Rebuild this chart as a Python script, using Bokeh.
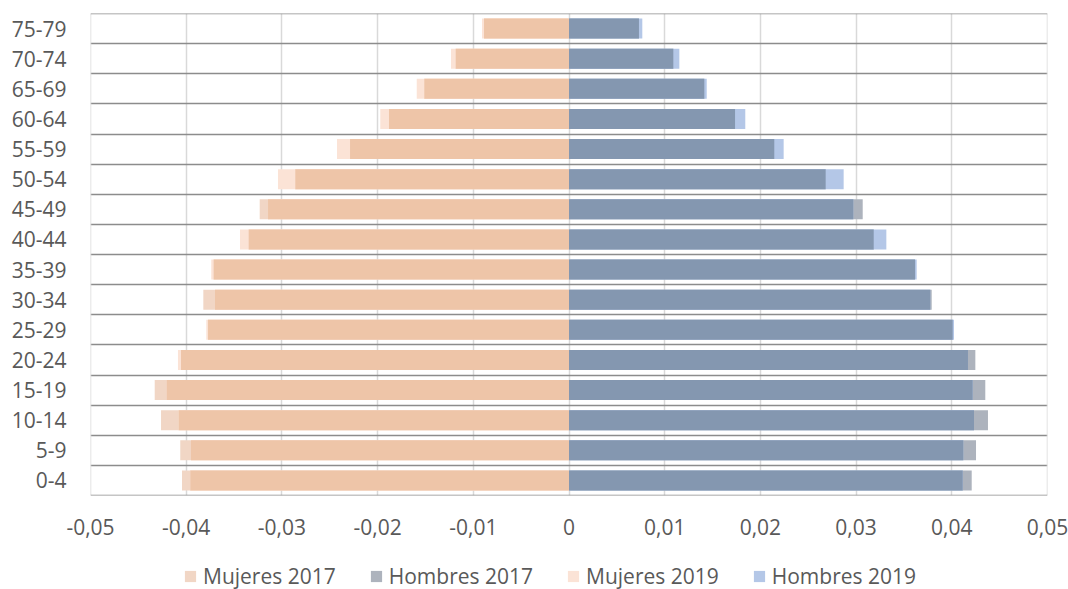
from bokeh.plotting import figure
from bokeh.layouts import column
from bokeh.models import (Range1d, FixedTicker, CustomJSTickFormatter, Legend, LegendItem,
                          ColumnDataSource, Span)
from bokeh.embed import file_html
from bokeh.resources import INLINE
import numpy as np

# ---- data (bottom -> top) ----
grupos = ["0-4", "5-9", "10-14", "15-19", "20-24", "25-29", "30-34", "35-39",
          "40-44", "45-49", "50-54", "55-59", "60-64", "65-69", "70-74", "75-79"]
mujeres_2017 = [-0.04044, -0.04062, -0.04263, -0.04329, -0.04054, -0.03772, -0.03821, -0.03713,
                -0.03347, -0.03232, -0.02860, -0.02288, -0.01881, -0.01512, -0.01184, -0.00888]
mujeres_2019 = [-0.03957, -0.03950, -0.04078, -0.04204, -0.04086, -0.03790, -0.03699, -0.03738,
                -0.03438, -0.03145, -0.03041, -0.02424, -0.01972, -0.01591, -0.01233, -0.00909]
hombres_2017 = [0.04208, 0.04253, 0.04378, 0.04350, 0.04246, 0.04009, 0.03790, 0.03616,
                0.03184, 0.03069, 0.02682, 0.02145, 0.01735, 0.01414, 0.01090, 0.00731]
hombres_2019 = [0.04114, 0.04120, 0.04232, 0.04218, 0.04169, 0.04023, 0.03775, 0.03633,
                0.03316, 0.02971, 0.02870, 0.02243, 0.01842, 0.01439, 0.01153, 0.00766]
x_ticks = [-0.05, -0.04, -0.03, -0.02, -0.01, 0.0, 0.01, 0.02, 0.03, 0.04, 0.05]
series_labels = ["Mujeres 2017", "Hombres 2017", "Mujeres 2019", "Hombres 2019"]

# ---- styles ----
FONT = "Open Sans"
TXT = "#595959"
C_M17 = "#F1D6C5"
C_M19 = "#FBE3D6"
C_MB = "#EEC5A8"
C_H17 = "#ADB3BD"
C_H19 = "#B4C7E7"
C_HB = "#8497B0"
C_HGRID = "#8C8C8C"
C_VGRID = "#D9D9D9"
BAR_H = 0.66

n = len(grupos)
y = np.arange(n) + 0.5
m17 = np.array(mujeres_2017)
m19 = np.array(mujeres_2019)
h17 = np.array(hombres_2017)
h19 = np.array(hombres_2019)

src = ColumnDataSource(dict(
    y=y, m17=m17, m19=m19, h17=h17, h19=h19,
    mb=np.maximum(m17, m19), hb=np.minimum(h17, h19), zero=np.zeros(n),
))

p = figure(width=1068, height=548, output_backend="svg", toolbar_location=None,
           x_range=Range1d(x_ticks[0], x_ticks[-1]), y_range=Range1d(0, n),
           min_border_left=90, min_border_right=21, min_border_top=13, min_border_bottom=53)
p.outline_line_color = None
p.background_fill_color = "white"
p.border_fill_color = "white"

p.hbar(y="y", left="m17", right="zero", height=BAR_H, source=src, fill_color=C_M17, line_color=None)
p.hbar(y="y", left="zero", right="h17", height=BAR_H, source=src, fill_color=C_H17, line_color=None)
p.hbar(y="y", left="m19", right="zero", height=BAR_H, source=src, fill_color=C_M19, line_color=None)
p.hbar(y="y", left="zero", right="h19", height=BAR_H, source=src, fill_color=C_H19, line_color=None)
p.hbar(y="y", left="mb", right="zero", height=BAR_H, source=src, fill_color=C_MB, line_color=None)
p.hbar(y="y", left="zero", right="hb", height=BAR_H, source=src, fill_color=C_HB, line_color=None)

# axes
xa = p.xaxis[0]
xa.ticker = FixedTicker(ticks=x_ticks)
xa.formatter = CustomJSTickFormatter(code="""
    if (Math.abs(tick) < 1e-9) return "0";
    return tick.toFixed(2).replace('.', ',');
""")
xa.axis_line_color = None
xa.major_tick_line_color = None
xa.minor_tick_line_color = None
xa.major_label_text_font = FONT
xa.major_label_text_font_size = "21px"
xa.major_label_text_color = TXT
xa.major_label_standoff = 17

ya = p.yaxis[0]
ya.ticker = FixedTicker(ticks=list(y))
ya.formatter = CustomJSTickFormatter(args=dict(labels=grupos), code="""
    return labels[Math.floor(tick)];
""")
ya.axis_line_color = None
ya.major_tick_line_color = None
ya.minor_tick_line_color = None
ya.major_label_text_font = FONT
ya.major_label_text_font_size = "21px"
ya.major_label_text_color = TXT
ya.major_label_standoff = 18

# grids
p.xgrid.grid_line_color = C_VGRID
p.xgrid.grid_line_width = 1.5
p.ygrid.ticker = FixedTicker(ticks=list(range(n + 1)))
p.ygrid.grid_line_color = C_HGRID
p.ygrid.grid_line_width = 1.5

# frame edges (grid excludes range ends)
for xv in (x_ticks[0], x_ticks[-1]):
    p.add_layout(Span(location=xv, dimension="height", line_color=C_VGRID, line_width=1.5))
for yv in (0, n):
    p.add_layout(Span(location=yv, dimension="width", line_color=C_HGRID, line_width=1.5))

# ---- legend strip (separate figure below, frame aligned with main plot) ----
pl = figure(width=1068, height=41, output_backend="svg", toolbar_location=None,
            x_range=Range1d(x_ticks[0], x_ticks[-1]), y_range=Range1d(-2 * n, -n),
            min_border_left=0, min_border_right=0, min_border_top=0, min_border_bottom=0)
pl.axis.visible = False
pl.grid.visible = False
pl.outline_line_color = None
items = []
for lab, (lcol, rcol), col in zip(series_labels,
                                  [("m17", "zero"), ("zero", "h17"), ("m19", "zero"), ("zero", "h19")],
                                  [C_M17, C_H17, C_M19, C_H19]):
    # hidden renderers: only their legend swatches are shown
    rr = pl.hbar(y="y", left=lcol, right=rcol, height=BAR_H, source=src, fill_color=col,
                 line_color=None, visible=False)
    items.append(LegendItem(label=lab, renderers=[rr]))
legend = Legend(items=items, orientation="horizontal", location=(93, -1))
legend.padding = 0
legend.margin = 0
legend.spacing = 33
legend.label_standoff = 6
legend.glyph_width = 14
legend.glyph_height = 14
legend.label_text_font = FONT
legend.label_text_font_size = "21px"
legend.label_text_color = TXT
legend.border_line_color = None
legend.background_fill_alpha = 0
pl.add_layout(legend)

layout = column(p, pl, spacing=0)
open("out.html", "w").write(file_html(layout, INLINE))
